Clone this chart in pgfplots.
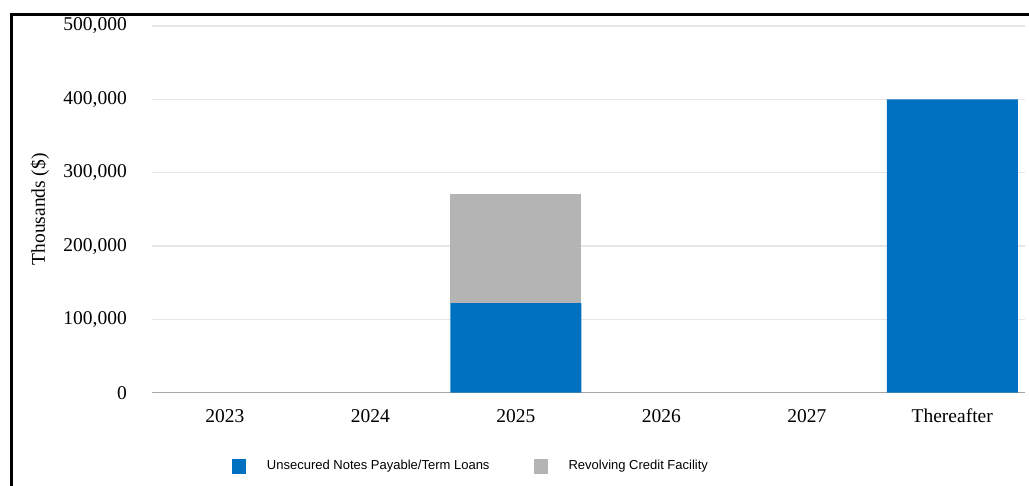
\documentclass[border=0pt]{standalone}
\usepackage{pgfplots}
\pgfplotsset{compat=1.18}
\usepackage{fontspec}
\setmainfont{Liberation Serif}
\newfontfamily\legendfont{Liberation Sans}
\definecolor{notesblue}{HTML}{0070C0}
\definecolor{rcfgray}{HTML}{B4B4B4}
\definecolor{gridgray}{HTML}{E6E6E6}
\definecolor{axisgray}{HTML}{A6A6A6}

\pgfplotstableread{
x notes rcf
0 0 0
1 0 0
2 122000 149000
3 0 0
4 0 0
5 400000 0
}\maturities

\begin{document}
\begin{tikzpicture}
\useasboundingbox (0,0) rectangle (1029bp,486bp);
% frame of the screenshot (left and top edges)
\draw[line width=3bp] (11bp,0) -- (11bp,471.7bp) -- (1029bp,471.7bp);
\begin{axis}[
    at={(152bp,93.3bp)}, anchor=south west,
    scale only axis, width=873bp, height=366.7bp,
    ybar stacked, bar width=131bp,
    xmin=-0.5, xmax=5.5, ymin=0, ymax=500000,
    xtick=data,
    xticklabels={2023,2024,2025,2026,2027,Thereafter},
    ytick={0,100000,200000,300000,400000,500000},
    scaled y ticks=false,
    /pgf/number format/fixed,
    /pgf/number format/1000 sep={,},
    /pgf/number format/assume math mode=true,
    major tick length=0pt,
    axis x line*=bottom, axis y line*=left,
    x axis line style={axisgray, line width=1.5bp, -},
    y axis line style={draw=none},
    ymajorgrids, grid style={gridgray, line width=1.3bp},
    ticklabel style={font=\fontsize{19.5bp}{23bp}\selectfont},
    yticklabel style={anchor=east, inner sep=0pt, xshift=-25bp},
    xticklabel style={anchor=base, inner sep=0pt, yshift=-30bp},
    ylabel={Thousands (\$)},
    every axis y label/.style={at={(axis description cs:-0.1283,0.5)}, anchor=center, rotate=90, font=\fontsize{19.5bp}{23bp}\selectfont},
    legend columns=2,
    legend image code/.code={\fill[#1] (0bp,-7.5bp) rectangle (14bp,7.5bp);},
    legend style={at={(axis description cs:0.0916,-0.1999)}, anchor=west,
        draw=none, fill=none, inner sep=0pt, outer sep=0pt,
        font=\legendfont\fontsize{13bp}{15bp}\selectfont,
        nodes={inner sep=0pt}, column sep=0pt,
        /tikz/every odd column/.append style={column sep=21bp},
        /tikz/every even column/.append style={column sep=44bp}},
]
\addplot[fill=notesblue, draw=none] table[x=x, y=notes] {\maturities};
\addlegendentry{Unsecured Notes Payable/Term Loans}
\addplot[fill=rcfgray, draw=none] table[x=x, y=rcf] {\maturities};
\addlegendentry{Revolving Credit Facility}
\end{axis}
\end{tikzpicture}
\end{document}
